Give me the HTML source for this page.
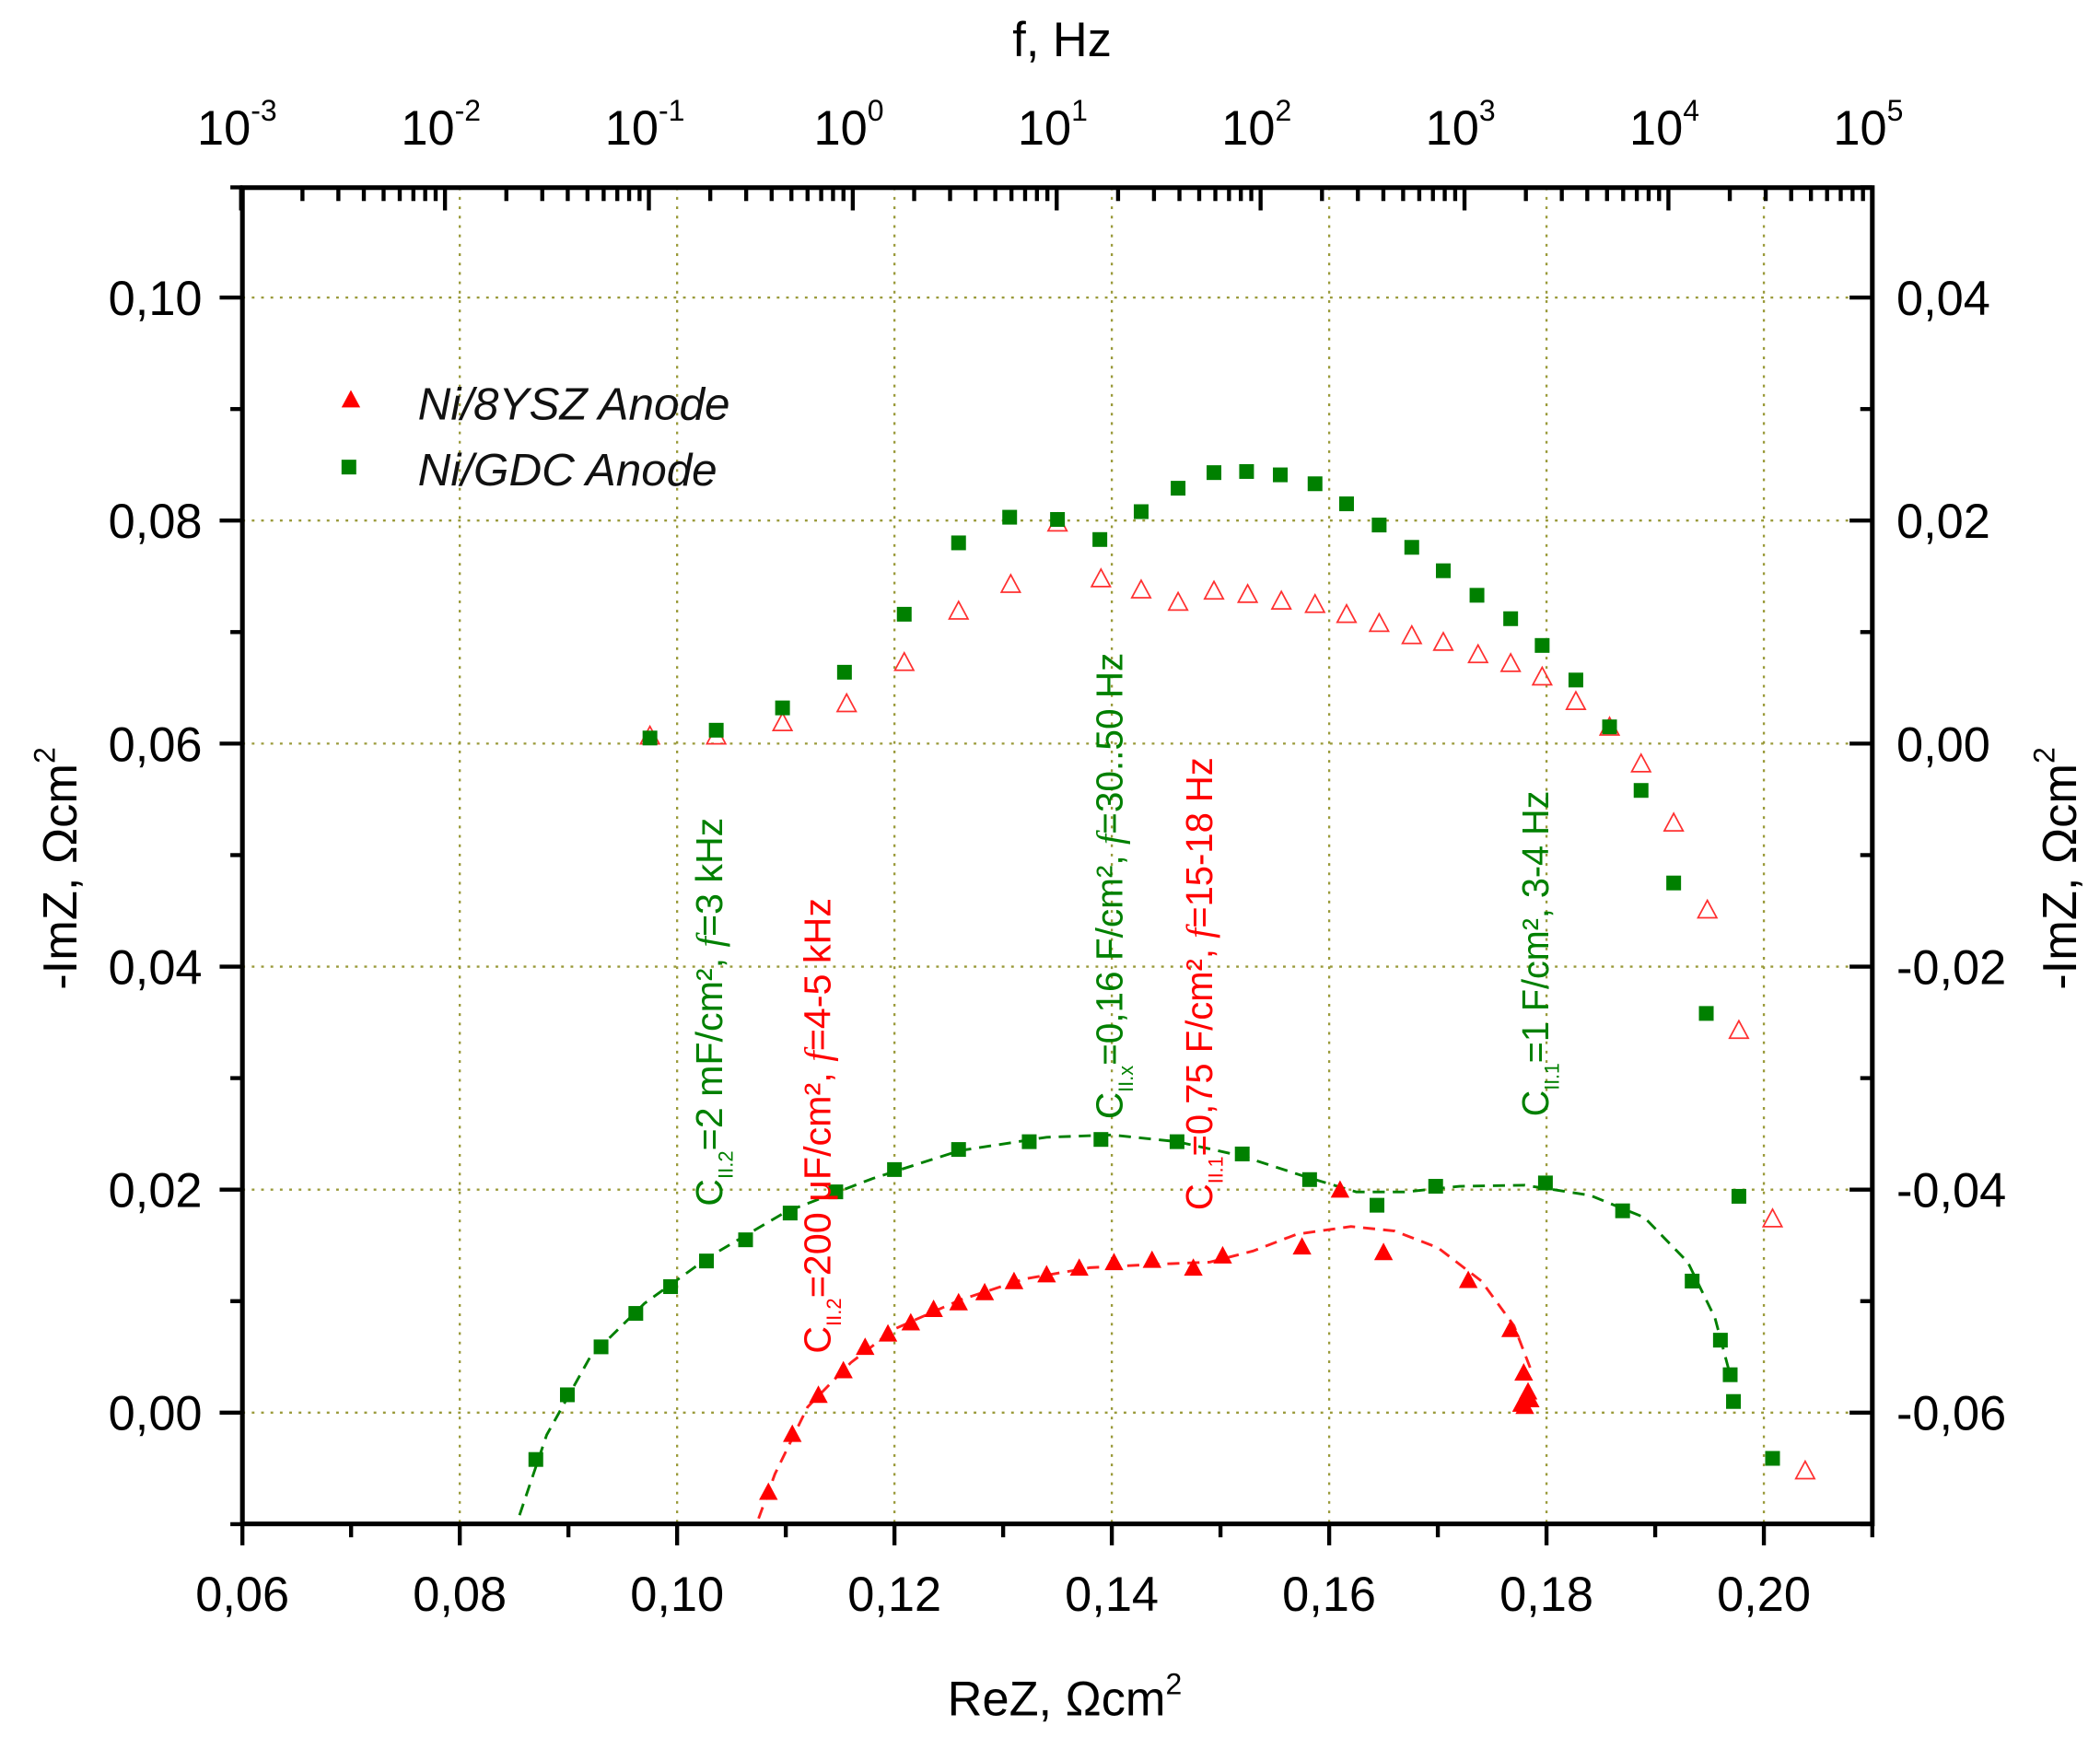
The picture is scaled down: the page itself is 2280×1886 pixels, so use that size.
<!DOCTYPE html>
<html><head><meta charset="utf-8"><style>
html,body{margin:0;padding:0;background:#fff;}
svg{display:block;}
text{font-family:"Liberation Sans",Arial,sans-serif;}
</style></head><body>
<svg id="chart" width="2280" height="1886" viewBox="0 0 1568 1296" preserveAspectRatio="none" xmlns="http://www.w3.org/2000/svg">
<rect width="1568" height="1296" fill="#fff"/>
<g id="grid"></g>
<g id="fits"></g>
<g id="marks"></g>
<g id="axes"></g>
<g id="notes"></g>
<g id="legend">
  <polygon points="262,291 255,304 269,304" fill="#ff0000"/>
  <text x="312" y="313" font-size="34" font-style="italic" fill="#111">Ni/8YSZ Anode</text>
  <rect x="255" y="343" width="11" height="11" fill="#008000"/>
  <text x="312" y="362" font-size="34" font-style="italic" fill="#111">Ni/GDC Anode</text>
</g>
<text x="795" y="1280" font-size="36" text-anchor="middle">ReZ, Ωcm<tspan font-size="22" dy="-16">2</tspan></text>
<text x="793" y="42" font-size="36" text-anchor="middle">f, Hz</text>
<text transform="translate(57,648) rotate(-90)" font-size="36" text-anchor="middle">-ImZ, Ωcm<tspan font-size="22" dy="-16">2</tspan></text>
<text transform="translate(1550,648) rotate(-90)" font-size="36" text-anchor="middle">-ImZ, Ωcm<tspan font-size="22" dy="-16">2</tspan></text>
</svg>
<script>
// ---- data ----
const gdcUpperX = [0.0975,0.1036,0.1097,0.1154,0.1209,0.1259,0.1306,0.1350,0.1389,0.1427,0.1461,0.1494,0.1524,0.1555,0.1587,0.1616,0.1646,0.1676,0.1705,0.1736,0.1767,0.1796,0.1827,0.1858,0.1887,0.1917,0.1947,0.1977,0.2008];
const gdcUpperY = [0.0005,0.0012,0.0032,0.0064,0.0116,0.0180,0.0203,0.0201,0.0183,0.0208,0.0229,0.0243,0.0244,0.0241,0.0233,0.0215,0.0196,0.0176,0.0155,0.0133,0.0112,0.0088,0.0057,0.0015,-0.0042,-0.0125,-0.0242,-0.0406,-0.0641];
const yszUpperX = [0.0975,0.1036,0.1097,0.1156,0.1209,0.1259,0.1307,0.1350,0.1390,0.1427,0.1461,0.1494,0.1525,0.1556,0.1587,0.1616,0.1646,0.1676,0.1705,0.1737,0.1767,0.1796,0.1827,0.1858,0.1887,0.1917,0.1948,0.1977,0.2008,0.2038];
const yszUpperY = [0.0007,0.0007,0.0019,0.0036,0.0073,0.0119,0.0143,0.0198,0.0148,0.0138,0.0127,0.0137,0.0134,0.0128,0.0125,0.0116,0.0108,0.0097,0.0091,0.0080,0.0072,0.0060,0.0038,0.0015,-0.0018,-0.0071,-0.0149,-0.0257,-0.0426,-0.0652];
const gdcLowerX = [0.0870,0.0899,0.0930,0.0962,0.0994,0.1027,0.1063,0.1104,0.1146,0.1200,0.1259,0.1324,0.1390,0.1460,0.1520,0.1582,0.1644,0.1698,0.1799,0.1870,0.1934,0.1960,0.1969,0.1972];
const gdcLowerY = [-0.0042,0.0016,0.0059,0.0089,0.0113,0.0136,0.0155,0.0179,0.0198,0.0218,0.0236,0.0243,0.0245,0.0243,0.0232,0.0209,0.0186,0.0203,0.0206,0.0181,0.0118,0.0065,0.0034,0.0010];
const yszLowerX = [0.1084,0.1106,0.1130,0.1153,0.1173,0.1194,0.1215,0.1236,0.1259,0.1283,0.1310,0.1340,0.1370,0.1402,0.1437,0.1475,0.1502,0.1575,0.1610,0.1650,0.1728,0.1767,0.1779,0.1783,0.1785,0.1780,0.1777];
const yszLowerY = [-0.0071,-0.0019,0.0016,0.0038,0.0059,0.0071,0.0081,0.0093,0.0099,0.0108,0.0118,0.0124,0.0130,0.0135,0.0137,0.0130,0.0141,0.0149,0.0200,0.0144,0.0119,0.0075,0.0036,0.0019,0.0012,0.0006,0.0008];
const gdcFitX = [0.0855,0.088,0.092,0.097,0.103,0.110,0.118,0.126,0.134,0.140,0.146,0.152,0.158,0.1625,0.167,0.172,0.178,0.184,0.189,0.193,0.1955,0.197];
const gdcFitY = [-0.0092,-0.002,0.005,0.0098,0.014,0.018,0.021,0.0235,0.0247,0.0249,0.0243,0.0230,0.0211,0.0198,0.0198,0.0203,0.0204,0.0195,0.0175,0.0135,0.0085,0.003];
const yszFitX = [0.1075,0.109,0.112,0.116,0.120,0.126,0.132,0.138,0.144,0.149,0.153,0.157,0.162,0.166,0.170,0.174,0.177,0.1785];
const yszFitY = [-0.0095,-0.0055,0.0005,0.0045,0.0075,0.0101,0.0120,0.0130,0.0133,0.0135,0.0145,0.0160,0.0167,0.0163,0.0148,0.0118,0.0078,0.0040];
const xTicks = [0.06,0.08,0.10,0.12,0.14,0.16,0.18,0.20];
const xTickLabels = ["0,06","0,08","0,10","0,12","0,14","0,16","0,18","0,20"];
const yTicks = [0.00,0.02,0.04,0.06,0.08,0.10];
const yTickLabels = ["0,00","0,02","0,04","0,06","0,08","0,10"];
const y2Ticks = [-0.06,-0.04,-0.02,0.00,0.02,0.04];
const y2TickLabels = ["-0,06","-0,04","-0,02","0,00","0,02","0,04"];
const fExponents = [-3,-2,-1,0,1,2,3,4,5];

// ---- axes functions ----
const L=181,R=1398,T=140,B=1137;
const sx = v => 181 + (v-0.06)/0.02*162.29;
const sy = v => 1054 - v/0.1*832;
const sy2 = v => sy(v+0.06);
const sf = e => 180 + (e+3)*152.25;
const NS="http://www.w3.org/2000/svg";
function mk(tag, attrs, parent){const e=document.createElementNS(NS,tag);for(const k in attrs)e.setAttribute(k,attrs[k]);parent.appendChild(e);return e;}
const grid=document.getElementById('grid'),axes=document.getElementById('axes'),marks=document.getElementById('marks'),fits=document.getElementById('fits'),notes=document.getElementById('notes');
const gridStyle={stroke:"#9a9a3a","stroke-width":1.6,"stroke-dasharray":"2,5"};

xTicks.forEach((v,i)=>{
  const x=sx(v);
  if(i>0){const g=mk('line',Object.assign({x1:x,x2:x,y1:T,y2:B},gridStyle),grid);
  
  }
  const t=mk('line',{x1:x,x2:x,y1:B,y2:B+16,stroke:"#000","stroke-width":3},axes);
  
  
  if(i<xTicks.length-1){const m=mk('line',{x1:sx(v+0.01),x2:sx(v+0.01),y1:B,y2:B+10,stroke:"#000","stroke-width":3},axes);
  
  }
  const lb=mk('text',{x:x,y:1202,"font-size":36,"text-anchor":"middle"},axes);lb.textContent=xTickLabels[i];
  
  
});
mk('line',{x1:R,x2:R,y1:B,y2:B+10,stroke:"#000","stroke-width":3},axes);
yTicks.forEach((v,i)=>{
  const y=sy(v);
  const g=mk('line',Object.assign({x1:L,x2:R,y1:y,y2:y},gridStyle),grid);
  
  
  const t=mk('line',{x1:L-17,x2:L,y1:y,y2:y,stroke:"#000","stroke-width":3},axes);
  
  
  const m=mk('line',{x1:L-9,x2:L,y1:sy(v-0.01),y2:sy(v-0.01),stroke:"#000","stroke-width":3},axes);
  
  
  const lb=mk('text',{x:151,y:y+13,"font-size":36,"text-anchor":"end"},axes);lb.textContent=yTickLabels[i];
  
  
});
mk('line',{x1:L-9,x2:L,y1:sy(0.11)+1,y2:sy(0.11)+1,stroke:"#000","stroke-width":3},axes);
y2Ticks.forEach((v,i)=>{
  const y=sy2(v);
  const t=mk('line',{x1:R-17,x2:R,y1:y,y2:y,stroke:"#000","stroke-width":3},axes);
  
  
  const m=mk('line',{x1:R-9,x2:R,y1:sy2(v-0.01),y2:sy2(v-0.01),stroke:"#000","stroke-width":3},axes);
  
  
  const lb=mk('text',{x:1416,y:y+13,"font-size":36},axes);lb.textContent=y2TickLabels[i];
  
  
});
mk('line',{x1:R-9,x2:R,y1:sy2(0.05)+1,y2:sy2(0.05)+1,stroke:"#000","stroke-width":3},axes);
fExponents.forEach((e,i)=>{
  const x=sf(e);
  const t=mk('line',{x1:x,x2:x,y1:T,y2:T+17,stroke:"#000","stroke-width":3},axes);
  
  
  if(i<fExponents.length-1){for(let k=2;k<=9;k++){const xm=x+Math.log10(k)*152.25;
    const m=mk('line',{x1:xm,x2:xm,y1:T,y2:T+10,stroke:"#000","stroke-width":3},axes);
    
    }}
  const lb=mk('text',{x:x-3,y:108,"font-size":36,"text-anchor":"middle"},axes);
  
  
  lb.textContent="10";
  const sp=mk('tspan',{"font-size":22,dy:-18},lb);sp.textContent=String(e);
});
const frame=mk('rect',{x:L,y:T,width:R-L,height:B-T,fill:"none",stroke:"#000","stroke-width":3.5},axes);



// fits
function fitPath(xs,ys,color,name){
  let d=xs.map((v,i)=>(i?'L':'M')+sx(v).toFixed(1)+','+sy(ys[i]).toFixed(1)).join(' ');
  const p=mk('path',{d:d,fill:"none",stroke:color,"stroke-width":2,"stroke-dasharray":"9,6"},fits);
  
  
}
fitPath(gdcFitX,gdcFitY,"#008000","gdc-fit-line");
fitPath(yszFitX,yszFitY,"#ff2020","ysz-fit-line");

function squares(xs,ys,ysc,name){xs.forEach((v,i)=>{
  const r=mk('rect',{x:sx(v)-5.5,y:ysc(ys[i])-5.5,width:11,height:11,fill:"#008000"},marks);
  
  });}
function tris(xs,ys,ysc,name,filled){xs.forEach((v,i)=>{
  const x=sx(v),y=ysc(ys[i]);
  const p=mk('polygon',{points:`${x},${y-7} ${x-7},${y+6} ${x+7},${y+6}`,fill:filled?"#ff0000":"none",stroke:filled?"none":"#ff3030","stroke-width":1.2},marks);
  
  });}
tris(yszUpperX,yszUpperY,sy2,"ysz-upper-point",false);
squares(gdcUpperX,gdcUpperY,sy2,"gdc-upper-point");
squares(gdcLowerX,gdcLowerY,sy,"gdc-lower-point");
tris(yszLowerX,yszLowerY,sy,"ysz-lower-point",true);

// annotations
function note(x,y,color,sub,rest,len,name){
  const t=mk('text',{transform:`translate(${x},${y}) rotate(-90)`,"font-size":28,fill:color,textLength:len,lengthAdjust:"spacingAndGlyphs"},notes);
  
  
  t.appendChild(document.createTextNode("C"));
  const s=mk('tspan',{"font-size":15,dy:8},t);s.textContent=sub;
  const r=mk('tspan',{dy:-8},t);r.innerHTML=rest;
}
note(539,900,"#008000","II.2","=2 mF/cm², <tspan font-family='Liberation Serif' font-style='italic'>f</tspan>=3 kHz",290,"annotation-gdc-cii2");
note(620,1010,"#ff0000","II.2","=200 μF/cm², <tspan font-family='Liberation Serif' font-style='italic'>f</tspan>=4-5 kHz",340,"annotation-ysz-cii2");
note(838,835,"#008000","II.x","=0,16 F/cm², <tspan font-family='Liberation Serif' font-style='italic'>f</tspan>=30..50 Hz",348,"annotation-gdc-ciix");
note(905,903,"#ff0000","II.1","=0,75 F/cm², <tspan font-family='Liberation Serif' font-style='italic'>f</tspan>=15-18 Hz",338,"annotation-ysz-cii1");
note(1156,833,"#008000","II.1","=1 F/cm², 3-4 Hz",243,"annotation-gdc-cii1");
</script>
</body></html>
